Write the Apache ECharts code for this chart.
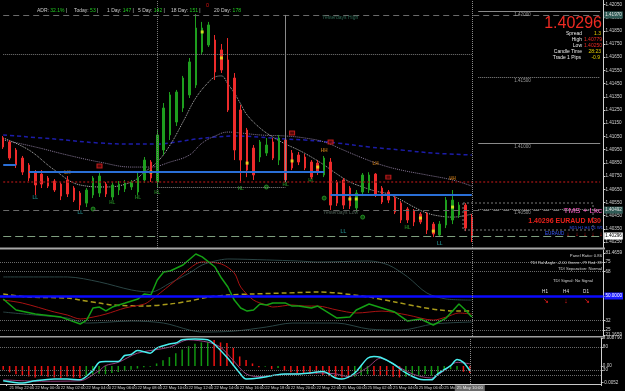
<!doctype html>
<html>
<head>
<meta charset="utf-8">
<title>EURAUD M30</title>
<script src="https://cdn.jsdelivr.net/npm/echarts@6/dist/echarts.min.js"></script>
<style>
html, body { margin: 0; padding: 0; background: #000; }
#chart { width: 625px; height: 391px; }
</style>
</head>
<body>
<div id="chart"></div>
<script>
// 30 minute bars, 21 May 21:30 .. 25 May 10:00  [open, close, low, high]
var candles = [
  [1.41038,1.40970,1.40955,1.41053],[1.41008,1.40886,1.40871,1.41023],[1.40947,1.40833,1.40811,1.40962],
  [1.40886,1.40780,1.40758,1.40902],[1.40833,1.40735,1.40712,1.40848],[1.40780,1.40682,1.40606,1.40795],
  [1.40765,1.40689,1.40659,1.40795],[1.40735,1.40674,1.40659,1.40750],[1.40712,1.40644,1.40629,1.40727],
  [1.40689,1.40598,1.40568,1.40705],[1.40720,1.40614,1.40591,1.40750],[1.40659,1.40568,1.40553,1.40674],
  [1.40621,1.40530,1.40492,1.40636],[1.40545,1.40644,1.40515,1.40659],[1.40606,1.40735,1.40583,1.40750],
  [1.40621,1.40750,1.40591,1.40773],[1.40689,1.40614,1.40591,1.40705],[1.40591,1.40682,1.40568,1.40705],
  [1.40644,1.40689,1.40606,1.40712],[1.40652,1.40697,1.40629,1.40720],[1.40667,1.40705,1.40644,1.40720],
  [1.40629,1.40742,1.40606,1.40773],[1.40720,1.40871,1.40697,1.40894],[1.40856,1.40735,1.40705,1.40871],
  [1.40705,1.41061,1.40659,1.41098],[1.40947,1.41265,1.40909,1.41303],[1.41061,1.41364,1.41023,1.41386],
  [1.41159,1.41386,1.41129,1.41402],[1.41265,1.41492,1.41235,1.41508],[1.41364,1.41614,1.41341,1.41644],
  [1.41439,1.41871,1.41417,1.41977],[1.41689,1.41871,1.41667,1.41917],[1.41742,1.41894,1.41727,1.41917],
  [1.41780,1.41538,1.41477,1.41818],[1.41705,1.41553,1.41530,1.41750],[1.41629,1.41250,1.41235,1.41795],
  [1.41492,1.40947,1.40871,1.41530],[1.41250,1.40871,1.40697,1.41288],[1.41098,1.40795,1.40742,1.41114],
  [1.40962,1.40758,1.40720,1.40985],[1.40894,1.41008,1.40856,1.41023],[1.40924,1.40985,1.40902,1.41038],
  [1.41008,1.40886,1.40871,1.41038],[1.40871,1.41038,1.40833,1.41061],[1.41023,1.40720,1.40705,1.41114],
  [1.40924,1.40811,1.40795,1.40947],[1.40909,1.40856,1.40833,1.40932],[1.40894,1.40811,1.40795,1.40917],
  [1.40856,1.40742,1.40727,1.40871],[1.40848,1.40780,1.40758,1.40871],[1.40758,1.40886,1.40742,1.40902],
  [1.40856,1.40530,1.40492,1.40886],[1.40705,1.40545,1.40523,1.40720],[1.40720,1.40530,1.40500,1.40735],
  [1.40659,1.40523,1.40500,1.40674],[1.40508,1.40621,1.40477,1.40644],[1.40629,1.40758,1.40598,1.40773],
  [1.40644,1.40758,1.40621,1.40779],[1.40765,1.40606,1.40591,1.40772],[1.40659,1.40553,1.40538,1.40674],
  [1.40629,1.40568,1.40545,1.40644],[1.40583,1.40477,1.40462,1.40598],[1.40545,1.40417,1.40394,1.40561],
  [1.40500,1.40417,1.40394,1.40515],[1.40485,1.40402,1.40371,1.40500],[1.40462,1.40402,1.40386,1.40477],
  [1.40462,1.40341,1.40311,1.40477],[1.40386,1.40311,1.40288,1.40402],[1.40303,1.40386,1.40288,1.40409],
  [1.40379,1.40568,1.40356,1.40591],[1.40417,1.40568,1.40386,1.40644],[1.40455,1.40530,1.40432,1.40553],
  [1.40530,1.40356,1.40333,1.40545],[1.40439,1.40296,1.40250,1.40462]
];

// moving averages [bar, price]
var maFast = [[0,1.41038],[4,1.40947],[8,1.40795],[12,1.40682],[16,1.40667],[20,1.40705],[22,1.40780],[24,1.40856],
  [26,1.40985],[28,1.41159],[30,1.41341],[32,1.41462],[33,1.41500],[34,1.41508],[35,1.41447],[36,1.41379],[37,1.41295],
  [38,1.41212],[40,1.41114],[42,1.41045],[44,1.40992],[46,1.40947],[48,1.40894],[50,1.40833],[52,1.40765],[54,1.40705],
  [56,1.40667],[58,1.40636],[60,1.40614],[62,1.40568],[64,1.40515],[66,1.40470],[68,1.40447],[70,1.40439],[73,1.40462]];
var maSlow = [[0,1.41023],[5,1.40970],[10,1.40909],[15,1.40856],[20,1.40818],[23,1.40818],[26,1.40856],[29,1.40909],
  [31,1.41000],[33,1.41053],[35,1.41083],[37,1.41076],[40,1.41061],[44,1.41053],[47,1.41038],[50,1.41008],[53,1.40947],
  [56,1.40886],[59,1.40833],[62,1.40795],[66,1.40758],[70,1.40720],[73,1.40674]];
var maLong = [[0,1.41061],[8,1.41030],[15,1.41000],[20,1.40992],[24,1.40992],[27,1.41008],[30,1.41030],[33,1.41045],
  [36,1.41053],[40,1.41045],[44,1.41030],[47,1.41023],[52,1.41000],[57,1.40970],[62,1.40947],[67,1.40924],[73,1.40909]];

// levels
var yesterdayHigh = 1.41970;
var yesterdayLow = 1.40492;
var lastPrice = 1.40296;
var pivotLevel = 1.40705;
var adrLevel = 1.41674;
var swingLevel = 1.40667;
var roundLevels = [1.42000, 1.41500, 1.41000, 1.40500];
var supportSegments = [[[0,1.40833],[2,1.40833]], [[4,1.40780],[50,1.40780]], [[51,1.40606],[73,1.40606]]];

// swing labels and markers [bar, price]
var llMarks = [[5,1.40583],[12,1.40470],[53,1.40326],[68,1.40235]];
var hlMarks = [[17,1.40545],[21,1.40583],[24,1.40621],[37,1.40652],[44,1.40682],[48,1.40712],[63,1.40356]];
var lhMarks = [[10,1.40773],[58,1.40841]];
var hhMarks = [[50,1.40939],[70,1.40727]];
var upMarks = [[14,1.40500],[41,1.40667],[50,1.40583],[56,1.40439]];
var downMarks = [[15,1.40826],[45,1.41076],[51,1.41008],[60,1.40742]];
var dotMarks = [[23,1.40780],[31,1.41841],[34,1.41644],[38,1.40848],[45,1.40864],[49,1.40818],[54,1.40576],
  [55,1.40576],[65,1.40432],[67,1.40333],[70,1.40515]];

// TDI panel
var tdiGreen = [[0,47.8],[2,39.7],[5,36.7],[9,34.5],[12,29.4],[13,32.3],[14,41.2],[15,41.9],[16,39.0],[17,41.9],
  [19,44.8],[21,47.8],[22,51.5],[23,50.7],[24,61.7],[25,67.6],[26,68.4],[28,72.8],[30,80.9],[31,78.7],[33,71.3],
  [34,63.2],[35,56.6],[36,47.0],[37,41.2],[38,38.9],[39,39.7],[40,44.1],[41,43.4],[42,44.8],[44,44.8],[45,42.6],
  [46,42.6],[48,41.2],[49,42.6],[52,33.8],[54,34.5],[55,39.7],[57,44.1],[59,41.2],[61,38.2],[63,31.6],[65,33.1],
  [67,28.7],[69,33.8],[71,44.1],[72,39.7],[73,34.5]];
var tdiRed = [[0,47.0],[3,44.8],[8,38.2],[10,36.0],[12,33.1],[14,34.5],[16,36.7],[19,41.2],[22,44.1],[23,47.0],
  [26,58.1],[28,66.2],[30,73.5],[31,75.0],[34,73.5],[36,66.9],[37,56.6],[39,47.0],[41,43.4],[42,41.9],[45,43.4],
  [47,42.6],[49,42.6],[52,39.7],[55,37.5],[59,38.9],[63,36.0],[67,32.3],[69,34.5],[71,37.5],[73,36.7]];
var tdiMid = [[0,51.5],[4,49.2],[10,48.5],[12,47.0],[15,44.8],[17,43.4],[22,42.6],[26,44.1],[29,46.3],[32,49.2],
  [35,50.7],[39,51.5],[44,52.2],[49,52.9],[52,52.2],[57,49.2],[61,45.6],[65,41.9],[68,39.7],[71,38.9],[73,38.9]];
var tdiUpper = [[0,64.0],[10,64.0],[15,60.3],[20,54.4],[23,52.9],[26,59.5],[29,66.9],[31,72.8],[33,75.7],[35,77.2],
  [41,76.5],[46,75.7],[49,75.0],[57,75.7],[60,72.8],[63,64.0],[66,52.2],[69,47.8],[73,47.0]];
var tdiLower = [[0,38.2],[5,36.0],[10,33.8],[13,30.1],[20,31.6],[25,30.1],[29,25.0],[31,23.5],[36,24.2],[41,27.2],
  [45,30.1],[52,30.1],[57,25.7],[62,25.0],[67,29.4],[73,30.9]];
var tdiLevels = [75, 68, 32, 25];
var tdiTicks = [21.1659, 25, 32, 50, 68, 75, 81.4659];

// lower panel: histogram + stochastic
var macdUp = [[13,-0.0034],[14,-0.0028],[15,-0.0024],[16,-0.0026],[17,-0.0022],[18,-0.0019],[19,-0.0016],[20,-0.0012],
  [21,-0.0008],[22,-0.0004],[23,-0.0002],[24,0.0008],[25,0.0018],[26,0.0028],[27,0.0040],[28,0.0052],[29,0.0062],
  [30,0.0070],[31,0.0074],[32,0.0076],[41,-0.0002],[43,-0.0006],[55,-0.0034],[56,-0.0030],[57,-0.0026],[63,-0.0034],
  [64,-0.0030],[65,-0.0028],[66,-0.0026],[67,-0.0030],[68,-0.0024],[69,-0.0016],[70,-0.0010],[71,-0.0012]];
var macdDown = [[0,-0.0012],[1,-0.0020],[2,-0.0026],[3,-0.0030],[4,-0.0033],[5,-0.0036],[6,-0.0030],[7,-0.0034],
  [8,-0.0036],[9,-0.0038],[10,-0.0033],[11,-0.0036],[12,-0.0038],[33,0.0082],[34,0.0074],[35,0.0072],[36,0.0057],
  [37,0.0030],[38,0.0019],[39,0.0008],[40,-0.0004],[42,-0.0010],[44,-0.0016],[45,-0.0020],[46,-0.0022],[47,-0.0024],
  [48,-0.0026],[49,-0.0025],[50,-0.0028],[51,-0.0032],[52,-0.0034],[53,-0.0036],[54,-0.0038],[58,-0.0030],
  [59,-0.0032],[60,-0.0030],[61,-0.0034],[62,-0.0036],[72,-0.0018],[73,-0.0022]];
var stochMain = [[0,7],[3,2],[5,7],[8,11],[10,11],[12,9],[14,29],[15,47],[16,49],[18,49],[19,62],[20,64],[21,73],
  [23,67],[24,78],[26,87],[27,89],[28,96],[30,98],[32,96],[33,87],[35,58],[37,24],[38,11],[40,13],[42,18],[44,22],
  [46,22],[48,24],[50,27],[52,13],[53,11],[55,24],[57,56],[58,60],[59,58],[61,44],[63,24],[65,11],[67,9],[68,22],
  [70,40],[71,53],[72,47],[73,29]];
var stochSignal = [[0,9],[6,6],[12,7],[15,29],[16,40],[18,47],[21,67],[26,80],[29,96],[32,91],[34,80],[36,51],
  [38,22],[40,16],[43,20],[46,22],[49,24],[52,22],[54,16],[57,36],[59,56],[61,44],[64,22],[67,13],[69,29],[71,47],[73,44]];
var stochLevels = [80, 30, 20];
var macdTicks = [0.00879, 0, -0.0052];

// axis labels
var priceTicks = [1.4025,1.4035,1.4045,1.4055,1.4065,1.4075,1.4085,1.4095,1.4105,1.4115,1.4125,1.4135,1.4145,
  1.4155,1.4165,1.4175,1.4185,1.4195,1.4205];
var timeLabels = ['21 May 22:00','22 May 00:00','22 May 02:00','22 May 04:00','22 May 06:00','22 May 08:00',
  '22 May 10:00','22 May 12:00','22 May 14:00','22 May 16:00','22 May 18:00','22 May 20:00','22 May 22:00',
  '25 May 00:00','25 May 02:00','25 May 04:00','25 May 06:00','25 May 08:00'];
var currentTime = '25 May 10:00';
var currentBar = 73;

var slots = [];
for (var i = 0; i < 94; i++) slots.push(String(i));

var FONT = 'Liberation Sans';
var axisText = { color: '#d4d4d4', fontSize: 4.6, fontFamily: FONT };

function showTime(idx) { return idx % 4 === 1 && (idx - 1) / 4 < timeLabels.length; }

// full width level with a price box on the axis
function levelBox(v, bg, fg, lineColor, type) {
  return [{ coord: [0, v], lineStyle: { color: lineColor, type: type, width: 1 },
    label: { show: true, position: 'end', distance: 4, formatter: v.toFixed(5), backgroundColor: bg, color: fg,
      fontSize: 4.6, fontFamily: FONT, padding: [1, 1] } }, { coord: [93, v] }];
}
function hline(v, color, type, width) {
  return { yAxis: v, lineStyle: { color: color, type: type, width: width || 1 }, label: { show: false } };
}
function seg(a, b, color, type, width, text) {
  return [{ coord: a, lineStyle: { color: color, type: type, width: width },
    label: text ? { show: true, formatter: text, position: 'insideStartBottom', distance: [36, 1],
      color: '#9a9a9a', fontSize: 4.6, fontFamily: FONT } : { show: false } }, { coord: b }];
}
function textMarks(data, text, color) {
  return { type: 'scatter', xAxisIndex: 0, yAxisIndex: 0, data: data, symbolSize: 1, silent: true,
    itemStyle: { color: 'transparent' },
    label: { show: true, position: 'inside', formatter: text, color: color, fontSize: 4.6, fontWeight: 'bold', fontFamily: FONT } };
}

var mainLines = [
  levelBox(yesterdayHigh, '#2f5a55', '#e0e0e0', '#6a6a6a', [6, 4]),
  levelBox(yesterdayLow, '#2f5a55', '#e0e0e0', '#6a6a6a', [6, 4]),
  levelBox(lastPrice, '#ffffff', '#000000', '#7f9f7f', [8, 4]),
  seg([0, pivotLevel], [93, pivotLevel], '#8a1212', [2, 2], 1.5),
  { xAxis: 24, lineStyle: { color: '#7a7a7a', type: 'dotted', width: 1 }, label: { show: false } },
  { xAxis: currentBar, lineStyle: { color: '#8a8a8a', type: 'dotted', width: 1 }, label: { show: false } },
  seg([44, yesterdayHigh], [44, pivotLevel], '#8a8a8a', 'solid', 1),
  seg([0, adrLevel], [currentBar, adrLevel], '#7a7a7a', 'dotted', 1),
  seg([24, swingLevel], [44, swingLevel], '#8a8a8a', 'dotted', 1)
];
roundLevels.forEach(function (v, k) {
  mainLines.push(seg([74, v], [93, v], '#8a8a8a', k % 2 ? 'dotted' : 'solid', 1, v.toFixed(5)));
});
supportSegments.forEach(function (s) {
  mainLines.push(seg(s[0], s[1], '#2a6fd6', 'solid', 2));
});

var tdiLines = [
  { yAxis: 50, lineStyle: { color: '#0a0aff', type: 'solid', width: 2.5 },
    label: { show: true, position: 'end', distance: 1, formatter: '50.0000', backgroundColor: '#1a1aff',
      color: '#ffffff', fontSize: 4.6, fontFamily: FONT, padding: [1, 1] } },
  { xAxis: currentBar, lineStyle: { color: '#8a8a8a', type: 'dotted', width: 1 }, label: { show: false } }
];
tdiLevels.forEach(function (v) { tdiLines.push(hline(v, '#6a6a6a', 'dotted', 1)); });

var stochLines = [
  { xAxis: currentBar, lineStyle: { color: '#8a8a8a', type: 'dotted', width: 1 },
    label: { show: true, position: 'start', distance: 1, formatter: currentTime, backgroundColor: '#6a6a6a',
      color: '#e8e8e8', fontSize: 4.3, fontFamily: FONT, padding: [1, 2] } }
];
stochLevels.forEach(function (v) { stochLines.push(hline(v, '#6a6a6a', 'dotted', 1)); });

function t(x, y, text, color, size, align, extra) {
  var s = { text: text, fill: color, fontSize: size, fontFamily: FONT, align: align || 'left', verticalAlign: 'middle' };
  if (extra) for (var k in extra) s[k] = extra[k];
  return { type: 'text', x: x, y: y, style: s, z: 100 };
}
function adr(x, label, value, bar) {
  return t(x, 10.7, '{w|' + label + '} {g|' + value + '}' + (bar ? ' {w||}' : ''), '#cccccc', 5, 'left',
    { rich: { w: { fill: '#cccccc', fontSize: 5, fontFamily: FONT }, g: { fill: '#22cc22', fontSize: 5, fontFamily: FONT } } });
}

var graphics = [
  { type: 'rect', shape: { x: 0, y: 247.5, width: 605, height: 2 }, style: { fill: '#a8a8a8' }, z: 90 },
  { type: 'rect', shape: { x: 0, y: 336, width: 605, height: 1.6 }, style: { fill: '#a0a0a0' }, z: 90 },
  { type: 'rect', shape: { x: 463, y: 203, width: 130, height: 27 },
    style: { fill: 'none', stroke: '#7a7a7a', lineWidth: 1, lineDash: [2, 2] }, z: 90 },
  adr(37, 'ADR:', '32.1%', true), adr(74, 'Today:', '53', true), adr(107, '1 Day:', '147', true),
  adr(138, '5 Day:', '142', true), adr(171, '18 Day:', '151', true), adr(214, '20 Day:', '178', false),
  t(206, 5, '0', '#dd1111', 5.5, 'left'),
  t(602, 24, '1.40296', '#ee2a22', 16, 'right'),
  t(582, 33.5, 'Spread', '#e8e8e8', 5, 'right'), t(601, 33.5, '1.3', '#e8d000', 5, 'right'),
  t(582, 39.5, 'High', '#e8e8e8', 5, 'right'), t(602, 39.5, '1.40779', '#ee2a22', 5, 'right'),
  t(582, 45.5, 'Low', '#e8e8e8', 5, 'right'), t(602, 45.5, '1.40250', '#ee2a22', 5, 'right'),
  t(582, 51.5, 'Candle Time', '#e8e8e8', 5, 'right'), t(601, 51.5, '28:23', '#e8d000', 5, 'right'),
  t(581, 57.5, 'Trade 1 Pips', '#e8e8e8', 5, 'right'), t(600, 57.5, '-0.9', '#e8d000', 5, 'right'),
  t(322, 18, 'Yesterdays High', '#2e6a55', 5, 'left'),
  t(323, 213, 'Yesterdays Low', '#4d5f55', 5, 'left'),
  t(602, 211, 'TMS + Lkc', '#ff5fc8', 8, 'right'),
  t(601, 221, '1.40296 EURAUD M30', '#e8201a', 7, 'right', { fontWeight: 'bold' }),
  t(603, 228, 'M15 H1 H4 D1 W1', '#3050ff', 4, 'right'),
  t(545, 234, 'EURAUD', '#3a5aff', 4.6, 'left'),
  t(568, 234, '↓', '#ff2020', 6, 'center'), t(577, 234, '↓', '#ff2020', 6, 'center'),
  t(585, 234, '↓', '#ff2020', 6, 'center'), t(593, 234, '↓', '#ff2020', 6, 'center'),
  t(601, 234, '↓', '#ff2020', 6, 'center'),
  t(602, 256, 'Panel Ratio: 0.86', '#d0d0d0', 4.2, 'right'),
  t(602, 262.5, 'TDI Ral Angle: -2.00 Green: -79 Red: 89', '#d0d0d0', 4, 'right'),
  t(602, 269, 'TDI Separation: Normal', '#d0d0d0', 4.2, 'right'),
  t(553, 281, 'TDI Signal: No Signal', '#d0d0d0', 4.2, 'left'),
  t(545, 292, 'H1', '#e0e0e0', 4.6, 'center'), t(566, 292, 'H4', '#e0e0e0', 4.6, 'center'),
  t(586, 292, 'D1', '#e0e0e0', 4.6, 'center'),
  t(546, 301, '↘', '#ff2020', 7, 'center'), t(566, 301, '↓', '#ff2020', 7, 'center'),
  t(587, 301, '↘', '#ff2020', 7, 'center')
];

var chart = echarts.init(document.getElementById('chart'));
var option = {
  backgroundColor: '#000000',
  animation: false,
  textStyle: { fontFamily: FONT },
  grid: [
    { left: -1.5, right: 20, top: 0, height: 248 },
    { left: -1.5, right: 20, top: 250, height: 86 },
    { left: -1.5, right: 20, top: 338, height: 46 }
  ],
  xAxis: [
    { type: 'category', gridIndex: 0, data: slots, show: false },
    { type: 'category', gridIndex: 1, data: slots, show: false },
    { type: 'category', gridIndex: 2, data: slots,
      axisLine: { lineStyle: { color: '#c8c8c8', width: 1 } },
      axisTick: { show: true, interval: showTime, length: 2, lineStyle: { color: '#c8c8c8' } },
      axisLabel: { interval: showTime, align: 'left', margin: 2, color: '#d4d4d4', fontSize: 4.1, fontFamily: FONT,
        formatter: function (v, idx) { return timeLabels[(idx - 1) / 4] || ''; } } }
  ],
  yAxis: [
    { type: 'value', gridIndex: 0, position: 'right', min: 1.40205, max: 1.42083, scale: true,
      axisLine: { show: true, lineStyle: { color: '#d0d0d0' } },
      axisTick: { show: true, customValues: priceTicks, length: 2, lineStyle: { color: '#d0d0d0' } },
      axisLabel: Object.assign({ customValues: priceTicks, margin: 2,
        formatter: function (v) { return v.toFixed(5); } }, axisText),
      splitLine: { show: false } },
    { type: 'value', gridIndex: 1, position: 'right', min: 20.6, max: 83.8,
      axisLine: { show: true, lineStyle: { color: '#d0d0d0' } },
      axisTick: { show: true, customValues: tdiTicks, length: 2, lineStyle: { color: '#d0d0d0' } },
      axisLabel: Object.assign({ customValues: tdiTicks, margin: 2,
        formatter: function (v) { return v === 50 ? '' : (v % 1 ? v.toFixed(4) : String(v)); } }, axisText),
      splitLine: { show: false } },
    { type: 'value', gridIndex: 2, position: 'right', min: 0, max: 100,
      axisLine: { show: true, lineStyle: { color: '#d0d0d0' } },
      axisTick: { show: true, customValues: stochLevels, length: 2, lineStyle: { color: '#d0d0d0' } },
      axisLabel: Object.assign({ customValues: stochLevels, margin: 2 }, axisText),
      splitLine: { show: false } },
    { type: 'value', gridIndex: 2, position: 'right', min: -0.00565, max: 0.00879,
      axisLine: { show: false },
      axisTick: { show: true, customValues: macdTicks, length: 2, lineStyle: { color: '#d0d0d0' } },
      axisLabel: Object.assign({ customValues: macdTicks, margin: 2,
        formatter: function (v) { return v === 0 ? '0.00' : (v > 0 ? v.toFixed(6) : v.toFixed(4)); } }, axisText),
      splitLine: { show: false } }
  ],
  graphic: graphics,
  series: [
    { type: 'candlestick', xAxisIndex: 0, yAxisIndex: 0, data: candles, barWidth: 2,
      itemStyle: { color: '#1e9e1e', color0: '#ee2b2b', borderColor: '#1e9e1e', borderColor0: '#ee2b2b', borderWidth: 1 },
      markLine: { silent: true, symbol: ['none', 'none'], animation: false, data: mainLines }, z: 3 },
    { type: 'line', xAxisIndex: 0, yAxisIndex: 0, data: maLong, showSymbol: false, smooth: 0.4, silent: true,
      lineStyle: { color: '#1c1ca8', type: [4, 3], width: 1.5 }, z: 2 },
    { type: 'line', xAxisIndex: 0, yAxisIndex: 0, data: maSlow, showSymbol: false, smooth: 0.4, silent: true,
      lineStyle: { color: '#8a7a9a', type: 'dotted', width: 1 }, z: 2 },
    { type: 'line', xAxisIndex: 0, yAxisIndex: 0, data: maFast, showSymbol: false, smooth: 0.4, silent: true,
      lineStyle: { color: '#b8b8b8', type: 'dotted', width: 1 }, z: 2 },
    textMarks(llMarks, 'LL', '#2aa6a6'),
    textMarks(hlMarks, 'HL', '#2aa02a'),
    textMarks(lhMarks, 'LH', '#e08a1a'),
    textMarks(hhMarks, 'HH', '#e08a1a'),
    { type: 'scatter', xAxisIndex: 0, yAxisIndex: 0, data: upMarks, symbol: 'circle', symbolSize: 4, silent: true,
      itemStyle: { color: '#0c5a0c', borderColor: '#2aa02a', borderWidth: 1 } },
    { type: 'scatter', xAxisIndex: 0, yAxisIndex: 0, data: downMarks, symbol: 'rect', symbolSize: [5, 4], silent: true,
      itemStyle: { color: '#6a0a0a', borderColor: '#dd2222', borderWidth: 1 } },
    { type: 'scatter', xAxisIndex: 0, yAxisIndex: 0, data: dotMarks, symbol: 'rect', symbolSize: [3, 3], silent: true,
      itemStyle: { color: '#f0f020' }, z: 4 },

    { type: 'line', xAxisIndex: 1, yAxisIndex: 1, data: tdiUpper, showSymbol: false, smooth: 0.3, silent: true,
      lineStyle: { color: '#2a4444', width: 1 } },
    { type: 'line', xAxisIndex: 1, yAxisIndex: 1, data: tdiLower, showSymbol: false, smooth: 0.3, silent: true,
      lineStyle: { color: '#2a4444', width: 1 } },
    { type: 'line', xAxisIndex: 1, yAxisIndex: 1, data: tdiMid, showSymbol: false, smooth: 0.3, silent: true,
      lineStyle: { color: '#a89a1a', type: [5, 3], width: 1.5 } },
    { type: 'line', xAxisIndex: 1, yAxisIndex: 1, data: tdiRed, showSymbol: false, smooth: 0.3, silent: true,
      lineStyle: { color: '#a81212', width: 1 } },
    { type: 'line', xAxisIndex: 1, yAxisIndex: 1, data: tdiGreen, showSymbol: false, silent: true,
      lineStyle: { color: '#14a014', width: 1.5 },
      markLine: { silent: true, symbol: ['none', 'none'], animation: false, data: tdiLines } },

    { type: 'bar', xAxisIndex: 2, yAxisIndex: 3, data: macdUp, barWidth: 1.5, barGap: '-100%', silent: true,
      itemStyle: { color: '#119611' } },
    { type: 'bar', xAxisIndex: 2, yAxisIndex: 3, data: macdDown, barWidth: 1.5, barGap: '-100%', silent: true,
      itemStyle: { color: '#ee1212' } },
    { type: 'line', xAxisIndex: 2, yAxisIndex: 2, data: stochSignal, showSymbol: false, smooth: 0.3, silent: true,
      lineStyle: { color: '#96407e', width: 1 } },
    { type: 'line', xAxisIndex: 2, yAxisIndex: 2, data: stochMain, showSymbol: false, smooth: 0.3, silent: true,
      lineStyle: { color: '#48f0f0', width: 1.5 },
      markLine: { silent: true, symbol: ['none', 'none'], animation: false, data: stochLines } }
  ]
};
chart.setOption(option);
</script>
</body>
</html>
